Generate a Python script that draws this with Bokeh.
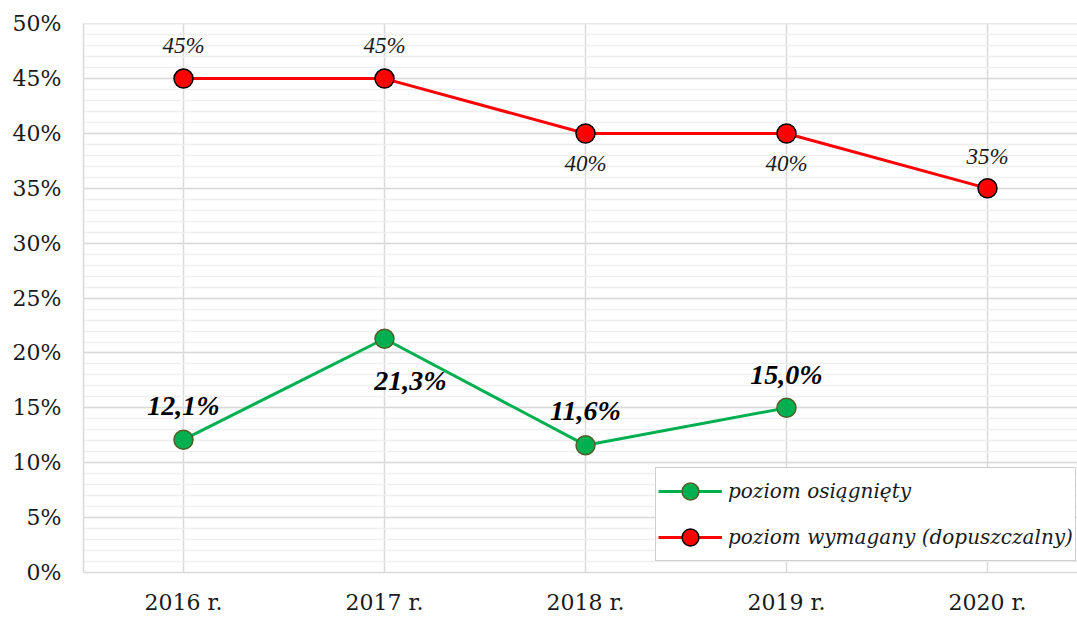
from bokeh.plotting import figure
from bokeh.models import (ColumnDataSource, Range1d, FixedTicker, Legend, LegendItem, LabelSet)
from bokeh.embed import file_html
from bokeh.resources import INLINE

years = ["2016 r.", "2017 r.", "2018 r.", "2019 r.", "2020 r."]
achieved = [12.1, 21.3, 11.6, 15.0]
required = [45, 45, 40, 40, 35]
achieved_labels = ["12,1%", "21,3%", "11,6%", "15,0%"]
required_labels = ["45%", "45%", "40%", "40%", "35%"]
y_ticks = [0, 5, 10, 15, 20, 25, 30, 35, 40, 45, 50]

FONT = "DejaVu Serif"

# label placement (screen px offsets)
ach_dx = [0, 26, 0, 0]
ach_dy = [34, -42, 35, 33]
req_dy = [33, 33, -30, -30, 32]

src_a = ColumnDataSource(dict(x=list(range(len(achieved))), y=achieved, t=achieved_labels,
                              dx=ach_dx, dy=ach_dy))
src_r = ColumnDataSource(dict(x=list(range(len(required))), y=required, t=required_labels,
                              dy=req_dy))

p = figure(width=1077, height=617, output_backend="svg", toolbar_location=None,
           x_range=Range1d(-0.4975, -0.4975 + 994 / 201), y_range=Range1d(0, 50.02),
           min_border_left=83, min_border_right=0, min_border_top=23, min_border_bottom=43)
p.outline_line_color = None
p.background_fill_color = "white"
p.border_fill_color = "white"

# grids
p.xgrid.ticker = FixedTicker(ticks=list(range(len(years))))
p.xgrid.grid_line_color = "#D9D9D9"
p.xgrid.grid_line_width = 1.5
p.ygrid.ticker = FixedTicker(ticks=y_ticks, minor_ticks=list(range(0, 51)))
p.ygrid.grid_line_color = "#D9D9D9"
p.ygrid.grid_line_width = 1.5
p.ygrid.minor_grid_line_color = "#EFEFEF"
p.ygrid.minor_grid_line_width = 1.5

# axes
p.xaxis.ticker = FixedTicker(ticks=list(range(len(years))))
p.xaxis.major_label_overrides = {i: y for i, y in enumerate(years)}
p.yaxis.ticker = FixedTicker(ticks=y_ticks)
p.yaxis.major_label_overrides = {v: f"{v}%" for v in y_ticks}
for ax in (p.xaxis[0], p.yaxis[0]):
    ax.axis_line_color = "#D9D9D9"
    ax.axis_line_width = 1.5
    ax.major_tick_line_color = None
    ax.minor_tick_line_color = None
    ax.major_tick_out = 0
    ax.minor_tick_out = 0
    ax.major_label_text_font = FONT
    ax.major_label_text_font_size = "22px"
    ax.major_label_text_color = "#1a1a1a"
p.yaxis.major_label_standoff = 22
p.xaxis.major_label_standoff = 17

# lines + markers
lr = p.line("x", "y", source=src_r, line_color="#FF0000", line_width=3)
sr = p.scatter("x", "y", source=src_r, size=19, fill_color="#FF0000",
               line_color="#000000", line_width=1.5)
la = p.line("x", "y", source=src_a, line_color="#00B050", line_width=3)
sa = p.scatter("x", "y", source=src_a, size=19, fill_color="#00B050",
               line_color="#4F5F28", line_width=1.5)

# data labels
p.add_layout(LabelSet(x="x", y="y", text="t", source=src_r, y_offset="dy",
                      text_font=FONT, text_font_style="italic", text_font_size="23px",
                      text_align="center", text_baseline="middle", text_color="#1a1a1a"))
p.add_layout(LabelSet(x="x", y="y", text="t", source=src_a, x_offset="dx", y_offset="dy",
                      text_font=FONT, text_font_style="bold italic", text_font_size="28px",
                      text_align="center", text_baseline="middle", text_color="#000000"))

legend = Legend(items=[LegendItem(label="poziom osiągnięty", renderers=[la, sa]),
                       LegendItem(label="poziom wymagany (dopuszczalny)", renderers=[lr, sr])],
                location=(572, 11))
legend.label_text_font = FONT
legend.label_text_font_style = "italic"
legend.label_text_font_size = "20px"
legend.label_text_color = "#1a1a1a"
legend.glyph_width = 64
legend.glyph_height = 42
legend.spacing = 4
legend.padding = 2
legend.label_standoff = 6
legend.border_line_color = "#A0A0A0"
legend.border_line_width = 1.5
legend.background_fill_alpha = 1.0
p.add_layout(legend)

open("out.html", "w").write(file_html(p, INLINE))
